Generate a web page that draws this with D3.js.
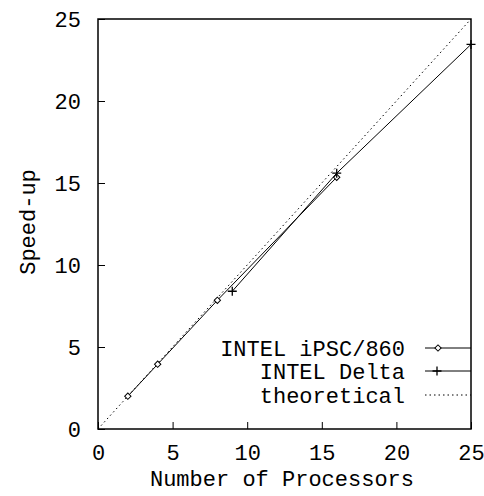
<!DOCTYPE html>
<html>
<head>
<meta charset="utf-8">
<script src="https://cdn.jsdelivr.net/npm/d3@7"></script>
<style>
  body { margin: 0; background: #fff; }
  text { font-family: "Liberation Mono", "DejaVu Sans Mono", monospace; fill: #000; }
</style>
</head>
<body>
<svg id="chart" width="484" height="496"></svg>
<script>
// data
const ipscProcs = [2, 4, 8, 16];
const ipscSpeedup = [2.0, 3.95, 7.85, 15.35];
const deltaProcs = [9, 16, 25];
const deltaSpeedup = [8.4, 15.6, 23.45];
const theoryProcs = [0, 25];
const xTicks = [0, 5, 10, 15, 20, 25];
const yTicks = [0, 5, 10, 15, 20, 25];
const legendNames = ["INTEL iPSC/860", "INTEL Delta", "theoretical"];

const svg = d3.select("#chart");
const margins = { top: 19, right: 13, bottom: 67, left: 98 };
const width = +svg.attr("width") - margins.left - margins.right;
const height = +svg.attr("height") - margins.top - margins.bottom;

let chartArea = svg.append("g")
    .attr("transform", "translate(" + margins.left + ", " + margins.top + ")");

const xScale = d3.scaleLinear().domain([0, 25]).range([0, width]);
const yScale = d3.scaleLinear().domain([0, 25]).range([height, 0]);

// axes: ticks pointing inward, no domain path
const xAxis = d3.axisBottom(xScale).tickValues(xTicks).tickSizeInner(-7).tickSizeOuter(0).tickPadding(15);
const yAxis = d3.axisLeft(yScale).tickValues(yTicks).tickSizeInner(-7).tickSizeOuter(0).tickPadding(17);

const gx = chartArea.append("g")
    .attr("transform", "translate(0, " + height + ")")
    .call(xAxis);
const gy = chartArea.append("g").call(yAxis);
[gx, gy].forEach(g => {
    g.select(".domain").remove();
    g.selectAll("line").attr("stroke", "#000").attr("stroke-width", 1);
    g.selectAll("text")
        .attr("font-family", "Liberation Mono")
        .attr("font-size", 22)
        .attr("fill", "#000");
});
gx.selectAll("text").attr("dy", "0.71em");

// frame
chartArea.append("rect")
    .attr("x", 0).attr("y", 0)
    .attr("width", width).attr("height", height)
    .attr("fill", "none").attr("stroke", "#000").attr("stroke-width", 1.5);

const line = d3.line().x(d => xScale(d[0])).y(d => yScale(d[1]));

// theoretical
chartArea.append("path")
    .datum(theoryProcs.map(p => [p, p]))
    .attr("d", line)
    .attr("fill", "none").attr("stroke", "#000")
    .attr("stroke-width", 1).attr("stroke-dasharray", "1.5,3");

// iPSC/860
const ipsc = ipscProcs.map((p, i) => [p, ipscSpeedup[i]]);
chartArea.append("path").datum(ipsc).attr("d", line)
    .attr("fill", "none").attr("stroke", "#000").attr("stroke-width", 1);
const diamond = d3.symbol().type(d3.symbolSquare).size(20);
chartArea.selectAll(".dia").data(ipsc).enter().append("path")
    .attr("d", diamond)
    .attr("transform", d => "translate(" + xScale(d[0]) + "," + yScale(d[1]) + ") rotate(45)")
    .attr("fill", "#fff").attr("stroke", "#000").attr("stroke-width", 1);

// Delta
const delta = deltaProcs.map((p, i) => [p, deltaSpeedup[i]]);
chartArea.append("path").datum(delta).attr("d", line)
    .attr("fill", "none").attr("stroke", "#000").attr("stroke-width", 1);
function plus(g, cx, cy) {
    g.append("path")
        .attr("d", "M" + (cx - 4.5) + "," + cy + "H" + (cx + 4.5) + "M" + cx + "," + (cy - 4.5) + "V" + (cy + 4.5))
        .attr("stroke", "#000").attr("stroke-width", 1.3);
}
delta.forEach(d => plus(chartArea, xScale(d[0]), yScale(d[1])));

// legend
const legend = svg.append("g");
const legY = [348, 371, 395];
legendNames.forEach((name, i) => {
    legend.append("text")
        .attr("x", 405).attr("y", legY[i])
        .attr("dy", "0.35em")
        .attr("text-anchor", "end")
        .attr("font-size", 22)
        .text(name);
    const seg = legend.append("line")
        .attr("x1", 425).attr("x2", 471)
        .attr("y1", legY[i]).attr("y2", legY[i])
        .attr("stroke", "#000").attr("stroke-width", 1);
    if (i === 2) seg.attr("stroke-dasharray", "1.5,3");
});
legend.append("path")
    .attr("d", diamond)
    .attr("transform", "translate(438," + legY[0] + ") rotate(45)")
    .attr("fill", "#fff").attr("stroke", "#000");
plus(legend, 437, legY[1]);

// axis titles
svg.append("text")
    .attr("x", 282).attr("y", 478)
    .attr("dy", "0.35em")
    .attr("text-anchor", "middle")
    .attr("font-size", 22)
    .text("Number of Processors");
svg.append("text")
    .attr("transform", "translate(27, 222) rotate(-90)")
    .attr("dy", "0.35em")
    .attr("text-anchor", "middle")
    .attr("font-size", 22)
    .text("Speed-up");
</script>
</body>
</html>
